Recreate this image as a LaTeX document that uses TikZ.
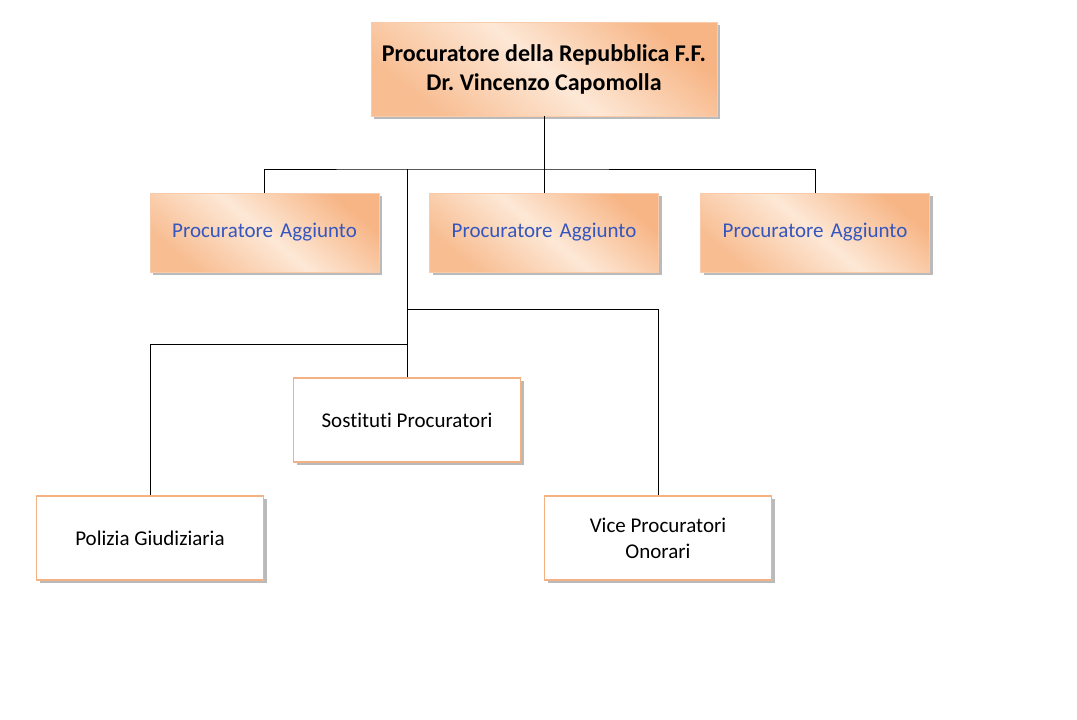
\documentclass[tikz,border=0pt]{standalone}
\usepackage{fontspec}
\setmainfont{Carlito}[Ligatures={NoCommon}]
\usetikzlibrary{shadows}
\definecolor{orDark}{HTML}{F7B585}
\definecolor{orLight}{HTML}{FDE8D6}
\definecolor{orBorder}{HTML}{F4B183}
\definecolor{blueTxt}{HTML}{3556BE}
\tikzset{
  x=1pt, y=-1pt,
  orangebox/.style={rectangle, inner sep=0pt, align=center, draw=orDark!70!white, line width=0.6pt,
    top color=orDark, bottom color=orDark!85!orLight, middle color=orLight, shading angle=-40,
    drop shadow={shadow xshift=3pt, shadow yshift=-3pt, opacity=0.45, fill=black!60}},
  whitebox/.style={rectangle, inner sep=0pt, align=center, draw=orBorder, line width=1.6pt, fill=white,
    minimum width=227pt, minimum height=84pt, font=\fontsize{21}{26}\selectfont,
    drop shadow={shadow xshift=3pt, shadow yshift=-3pt, opacity=0.45, fill=black!60}},
  aggbox/.style={orangebox, minimum width=229pt, minimum height=79pt, text=blueTxt,
    font=\fontsize{21}{26}\selectfont},
  conn/.style={draw=black, line width=0.8pt}
}
\begin{document}
\frenchspacing
\begin{tikzpicture}
\useasboundingbox (0,0) rectangle (1077,720);
\fill[white] (0,0) rectangle (1077,720);
\node[orangebox, minimum width=346pt, minimum height=94pt, font=\bfseries\fontsize{24}{29}\selectfont] (top) at (544,69)
  {Procuratore della Repubblica F.F.\\Dr. Vincenzo Capomolla};
\node[aggbox] (a1) at (264.5,232.5) {Procuratore\,\,Aggiunto};
\node[aggbox] (a2) at (544,232.5) {Procuratore\,\,Aggiunto};
\node[aggbox] (a3) at (815,232.5) {Procuratore\,\,Aggiunto};
\node[whitebox] (sost) at (407,420) {Sostituti Procuratori};
\node[whitebox] (pol) at (150,538) {Polizia Giudiziaria};
\node[whitebox] (vice) at (658,538) {Vice Procuratori\\Onorari};
\coordinate (hub) at (407,169);
\coordinate (hubB) at (407,309);
\coordinate (hubC) at (407,344);
\draw[conn] (top.south) -- (a2.north);
\draw[conn] (a1.north) |- (hub) -| (a3.north);
\draw[conn] (hub) -- (sost.north);
\draw[conn] (hubB) -| (vice.north);
\draw[conn] (hubC) -| (pol.north);
\end{tikzpicture}
\end{document}
